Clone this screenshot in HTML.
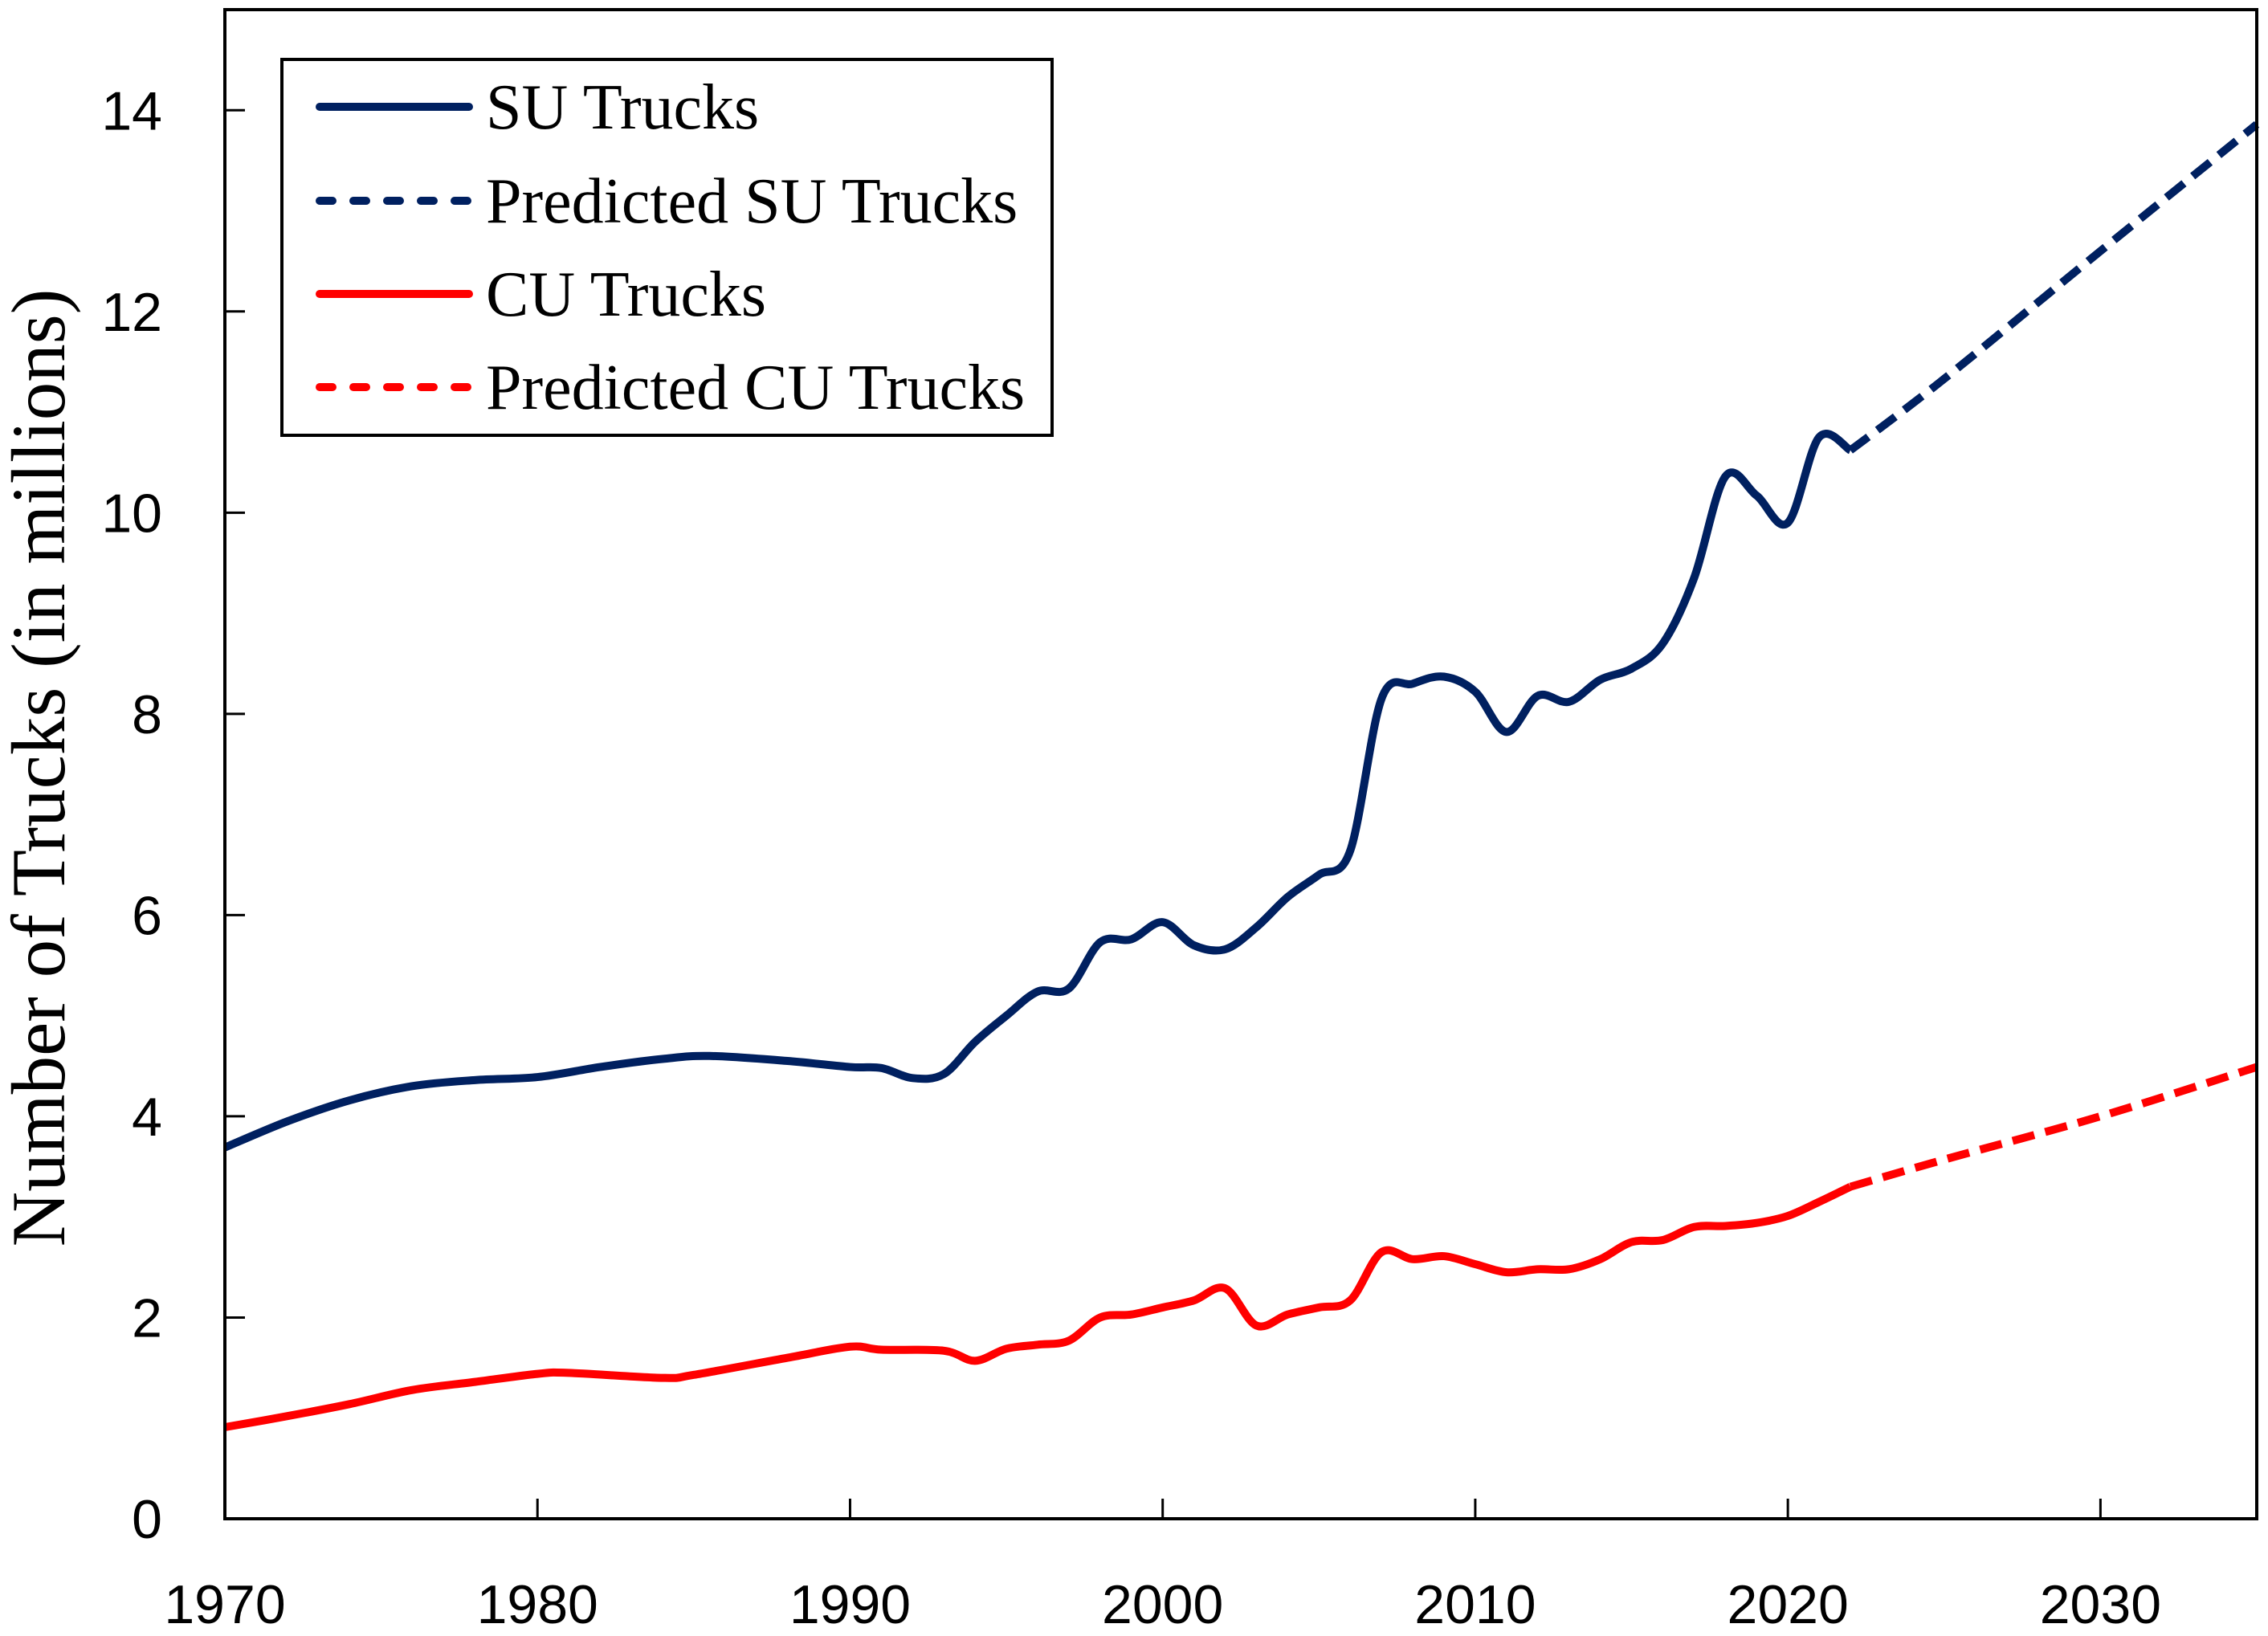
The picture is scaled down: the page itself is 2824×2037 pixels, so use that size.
<!DOCTYPE html>
<html><head><meta charset="utf-8"><style>
html,body{margin:0;padding:0;background:#fff}
svg{display:block}
</style></head><body>
<svg id="chart" width="2824" height="2037" viewBox="0 0 2824 2037" xmlns="http://www.w3.org/2000/svg">
<g id="marks"></g>
<g id="axes"></g>
</svg>
<script>
const suYears=[1970,1972,1974,1976,1978,1980,1982,1984,1985.5,1988,1990,1991,1992,1993,1994,1995,1996,1997,1998,1999,2000,2001,2002,2003,2004,2005,2006,2007,2008,2009,2010,2011,2012,2013,2014,2015,2016,2017,2018,2019,2020,2021,2022];
const suValues=[3.69,3.95,4.16,4.3,4.36,4.39,4.49,4.57,4.6,4.55,4.49,4.48,4.38,4.42,4.74,5.0,5.24,5.27,5.73,5.76,5.93,5.7,5.66,5.88,6.18,6.4,6.64,8.15,8.3,8.37,8.22,7.82,8.18,8.12,8.34,8.45,8.7,9.35,10.36,10.17,9.9,10.75,10.62];
const suPredYears=[2022,2025,2030,2035];
const suPredValues=[10.62,11.33,12.6,13.86];
const cuYears=[1970,1972,1974,1976,1978,1980,1981,1984,1985,1988,1990,1991,1993,1994,1995,1996,1997,1998,1999,2000,2001,2002,2003,2004,2005,2006,2007,2008,2009,2010,2011,2012,2013,2014,2015,2016,2017,2018,2019,2020,2021,2022];
const cuValues=[0.91,1.02,1.14,1.28,1.36,1.44,1.45,1.4,1.43,1.6,1.71,1.68,1.67,1.57,1.69,1.73,1.77,2.0,2.03,2.1,2.17,2.29,1.92,2.03,2.1,2.17,2.65,2.58,2.61,2.53,2.45,2.48,2.48,2.58,2.75,2.77,2.9,2.91,2.94,3.01,3.15,3.3];
const cuPredYears=[2022,2025,2030,2035];
const cuPredValues=[3.3,3.57,4.0,4.49];
const xTicks=[1970,1980,1990,2000,2010,2020,2030];
const yTicks=[0,2,4,6,8,10,12,14];

const L=280,R=2810,T=12,B=1891;
const X=v=>L+(v-1970)/(2035-1970)*(R-L);
const Y=v=>B-v/15*(B-T);
const NS='http://www.w3.org/2000/svg';
function mk(tag,attrs,parent){const e=document.createElementNS(NS,tag);for(const k in attrs)e.setAttribute(k,attrs[k]);parent.appendChild(e);return e;}
function smooth(xs,ys){
  const p=xs.map((x,i)=>[X(x),Y(ys[i])]);
  let d='M'+p[0][0]+','+p[0][1];
  for(let i=0;i<p.length-1;i++){
    const p0=p[i-1]||p[i],p1=p[i],p2=p[i+1],p3=p[i+2]||p2;
    const c1=[p1[0]+(p2[0]-p0[0])/6,p1[1]+(p2[1]-p0[1])/6];
    const c2=[p2[0]-(p3[0]-p1[0])/6,p2[1]-(p3[1]-p1[1])/6];
    d+=' C'+c1+' '+c2+' '+p2;
  }
  return d;
}
const marks=document.getElementById('marks');
const axes=document.getElementById('axes');
const NAVY='#002060',RED='#ff0000';
let e;
e=mk('path',{d:smooth(suYears,suValues),fill:'none',stroke:NAVY,'stroke-width':10,'stroke-linejoin':'round'},marks);


e=mk('path',{d:smooth(suPredYears,suPredValues),fill:'none',stroke:NAVY,'stroke-width':10,'stroke-dasharray':'28 14'},marks);


e=mk('path',{d:smooth(cuYears,cuValues),fill:'none',stroke:RED,'stroke-width':10,'stroke-linejoin':'round'},marks);


e=mk('path',{d:smooth(cuPredYears,cuPredValues),fill:'none',stroke:RED,'stroke-width':10,'stroke-dasharray':'28 14'},marks);



e=mk('rect',{x:L,y:T,width:R-L,height:B-T,fill:'none',stroke:'#000','stroke-width':4},axes);


xTicks.forEach(t=>{
  e=mk('line',{x1:X(t),x2:X(t),y1:B,y2:B-25,stroke:'#000','stroke-width':3},axes);
  
  
  e=mk('text',{x:X(t),y:2021,'text-anchor':'middle','font-family':'Liberation Sans, sans-serif','font-size':68},axes);
  e.textContent=t;
  
  
});
yTicks.forEach(t=>{
  e=mk('line',{x1:L,x2:L+25,y1:Y(t),y2:Y(t),stroke:'#000','stroke-width':3},axes);
  
  
  e=mk('text',{x:202,y:Y(t)+24,'text-anchor':'end','font-family':'Liberation Sans, sans-serif','font-size':68},axes);
  e.textContent=t;
  
  
});
e=mk('text',{x:0,y:0,transform:'translate(80,956) rotate(-90)','text-anchor':'middle','font-family':'Liberation Serif, serif','font-size':95},axes);
e.textContent='Number of Trucks (in millions)';



const lg=mk('g',{},axes);


mk('rect',{x:351,y:74,width:959,height:468,fill:'#fff',stroke:'#000','stroke-width':4},lg);
const legNames=['SU Trucks','Predicted SU Trucks','CU Trucks','Predicted CU Trucks'];
const legColors=[NAVY,NAVY,RED,RED];
const legDash=[false,true,false,true];
const legY=[133,250,366,482];
legNames.forEach((n,i)=>{
  const a={x1:398,x2:584,y1:legY[i],y2:legY[i],stroke:legColors[i],'stroke-width':10,'stroke-linecap':'round'};
  if(legDash[i])a['stroke-dasharray']='16 26';
  e=mk('line',a,lg);
  
  
  e=mk('text',{x:605,y:legY[i]+27,'font-family':'Liberation Serif, serif','font-size':80},lg);
  e.textContent=n;
  
  
});
</script>
</body></html>
